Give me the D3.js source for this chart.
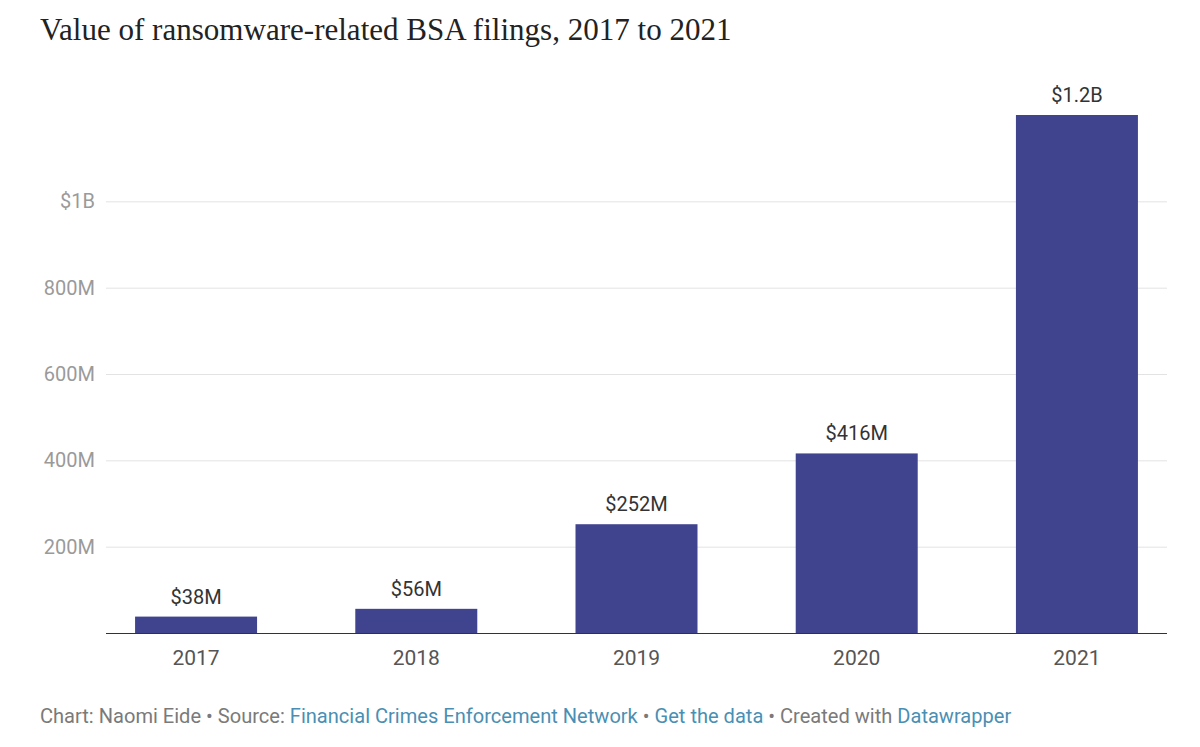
<!DOCTYPE html>
<html>
<head>
<meta charset="utf-8">
<script src="https://cdn.jsdelivr.net/npm/d3@7/dist/d3.min.js"></script>
<style>
  html, body { margin: 0; padding: 0; background: #fff; }
  svg { display: block; }
</style>
</head>
<body>
<svg id="chart" width="1200" height="747"></svg>
<script>
const categories = ["2017", "2018", "2019", "2020", "2021"];
const values = [38, 56, 252, 416, 1200]; // millions of dollars
const valueLabels = ["$38M", "$56M", "$252M", "$416M", "$1.2B"];
const yTicks = [200, 400, 600, 800, 1000];
const yTickLabels = ["200M", "400M", "600M", "800M", "$1B"];
const title = "Value of ransomware-related BSA filings, 2017 to 2021";
const footerParts = [
  { t: "Chart: Naomi Eide • Source: ", link: false },
  { t: "Financial Crimes Enforcement Network", link: true },
  { t: " • ", link: false },
  { t: "Get the data", link: true },
  { t: " • Created with ", link: false },
  { t: "Datawrapper", link: true }
];

const svg = d3.select("#chart");
const left = 106, right = 1167, baseY = 633, topY = 115;

const x = d3.scaleBand().domain(categories).range([left, right])
  .paddingInner(0.446).paddingOuter(0.132);
const y = d3.scaleLinear().domain([0, 1200]).range([baseY, topY]);

// Title
const titleText = svg.append("text")
  .attr("x", 40).attr("y", 40)
  .attr("font-family", "'Liberation Serif', serif")
  .attr("font-size", 28)
  .attr("fill", "#222")
  .text(title);
{
  const w = titleText.node().getComputedTextLength();
  titleText.attr("font-size", 28 * 692 / w);
}

// Grid + y labels
const yAxis = d3.axisLeft(y).tickValues(yTicks)
  .tickSize(-(right - left))
  .tickFormat((d, i) => yTickLabels[i]);
const gy = svg.append("g").attr("transform", `translate(${left},0)`).call(yAxis);
gy.select(".domain").remove();
gy.selectAll(".tick line").attr("stroke", "#e3e3e3").attr("stroke-width", 1);
gy.selectAll(".tick text")
  .attr("x", -11)
  .attr("font-family", "Roboto, sans-serif")
  .attr("font-size", 20)
  .attr("fill", "#9a9a9a");

// Bars
svg.append("g").selectAll("rect").data(categories).join("rect")
  .attr("x", d => x(d))
  .attr("width", x.bandwidth())
  .attr("y", (d, i) => y(values[i]))
  .attr("height", (d, i) => y(0) - y(values[i]))
  .attr("fill", "#40448f");

// Value labels
svg.append("g").selectAll("text").data(categories).join("text")
  .attr("x", d => x(d) + x.bandwidth() / 2)
  .attr("y", (d, i) => y(values[i]) - 13)
  .attr("text-anchor", "middle")
  .attr("font-family", "Roboto, sans-serif")
  .attr("font-size", 20)
  .attr("fill", "#333")
  .text((d, i) => valueLabels[i]);

// X axis
const xAxis = d3.axisBottom(x).tickSize(0).tickPadding(0);
const gx = svg.append("g").attr("transform", `translate(0,${baseY})`).call(xAxis);
gx.select(".domain").attr("stroke", "#333").attr("stroke-width", 1.2)
  .attr("d", `M${left},0.5H${right}`);
gx.selectAll(".tick text")
  .attr("y", 32).attr("dy", 0)
  .attr("font-family", "Roboto, sans-serif")
  .attr("font-size", 21)
  .attr("fill", "#555");

// Footer
const footer = svg.append("text")
  .attr("x", 40).attr("y", 723)
  .attr("font-family", "Roboto, sans-serif")
  .attr("font-size", 16);
footer.selectAll("tspan").data(footerParts).join("tspan")
  .attr("fill", d => d.link ? "#4a8fb3" : "#7a7a7a")
  .text(d => d.t);
{
  const w = footer.node().getComputedTextLength();
  footer.attr("font-size", 16 * 972 / w);
}
</script>
</body>
</html>
